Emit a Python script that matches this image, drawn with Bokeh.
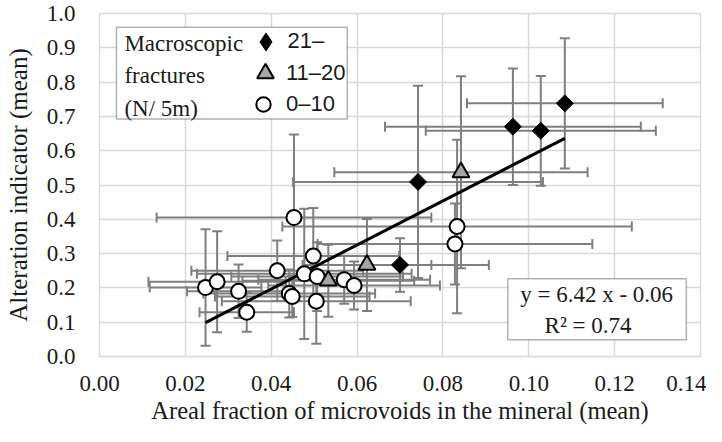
from bokeh.plotting import figure
from bokeh.models import (ColumnDataSource, Whisker, TeeHead, FixedTicker, Range1d,
                          BoxAnnotation, Label, Legend, LegendItem)
from bokeh.embed import file_html
from bokeh.resources import INLINE
import math

# ---- data ----
x_ticks = [0.00, 0.02, 0.04, 0.06, 0.08, 0.10, 0.12, 0.14]
x_tick_labels = ["0.00", "0.02", "0.04", "0.06", "0.08", "0.10", "0.12", "0.14"]
y_ticks = [0.0, 0.1, 0.2, 0.3, 0.4, 0.5, 0.6, 0.7, 0.8, 0.9, 1.0]
y_tick_labels = ["0.0", "0.1", "0.2", "0.3", "0.4", "0.5", "0.6", "0.7", "0.8", "0.9", "1.0"]

# 21- fractures
hi_x = [0.1084, 0.0963, 0.1028, 0.0742, 0.0700]
hi_y = [0.738, 0.670, 0.658, 0.509, 0.267]
hi_xerr = [0.0228, 0.0298, 0.0268, 0.0291, 0.0207]
hi_yerr = [0.190, 0.170, 0.160, 0.280, 0.078]

# 11-20 fractures
mid_x = [0.0842, 0.0623, 0.0533]
mid_y = [0.537, 0.267, 0.221]
mid_xerr = [0.0295, 0.0150, 0.0200]
mid_yerr = [0.280, 0.134, 0.105]

# 0-10 fractures
lo_x = [0.0247, 0.0274, 0.0324, 0.0343, 0.0414, 0.0453, 0.0442, 0.0449,
        0.0477, 0.0498, 0.0507, 0.0505, 0.0570, 0.0593, 0.0833, 0.0828]
lo_y = [0.201, 0.218, 0.190, 0.129, 0.250, 0.405, 0.184, 0.175,
        0.241, 0.293, 0.233, 0.161, 0.224, 0.207, 0.379, 0.328]
lo_xerr = [0.013, 0.016, 0.012, 0.011, 0.020, 0.032, 0.020, 0.018,
           0.025, 0.020, 0.020, 0.022, 0.020, 0.020, 0.0407, 0.032]
lo_yerr = [0.170, 0.147, 0.078, 0.057, 0.088, 0.242, 0.070, 0.060,
           0.190, 0.140, 0.100, 0.124, 0.070, 0.070, 0.253, 0.118]

slope = 6.42
intercept = -0.06
r2 = 0.74

legend_title = "Macroscopic\nfractures\n(N/ 5m)"
series_labels = ["21\u2013", "11\u201320", "0\u201310"]

SERIF = "Liberation Serif"
SANS = "Liberation Sans"
ERR = "#7f7f7f"
GRID = "#d9d9d9"
TXT = "#1a1a1a"

p = figure(width=706, height=426, output_backend="svg", toolbar_location=None,
           x_range=Range1d(0, 0.14), y_range=Range1d(0, 1.0),
           min_border_left=99, min_border_right=6, min_border_top=13, min_border_bottom=68)
p.outline_line_color = GRID
p.outline_line_width = 1.5
p.background_fill_color = "white"
p.border_fill_color = "white"

for g in (p.xgrid, p.ygrid):
    g.grid_line_color = GRID
    g.grid_line_width = 1.5
p.xgrid.ticker = FixedTicker(ticks=x_ticks)
p.ygrid.ticker = FixedTicker(ticks=y_ticks)

p.xaxis.ticker = FixedTicker(ticks=x_ticks)
p.yaxis.ticker = FixedTicker(ticks=y_ticks)
p.xaxis.major_label_overrides = {t: l for t, l in zip(x_ticks, x_tick_labels)}
p.yaxis.major_label_overrides = {t: l for t, l in zip(y_ticks, y_tick_labels)}
for ax in (p.xaxis, p.yaxis):
    ax.axis_line_color = None
    ax.major_tick_line_color = None
    ax.minor_tick_line_color = None
    ax.major_label_text_font = SERIF
    ax.major_label_text_font_size = "23px"
    ax.major_label_text_color = TXT
    ax.axis_label_text_font = SERIF
    ax.axis_label_text_font_style = "normal"
    ax.axis_label_text_color = TXT
p.xaxis.axis_label = "Areal fraction of microvoids in the mineral (mean)"
p.yaxis.axis_label = "Alteration indicator (mean)"
p.xaxis.axis_label_text_font_size = "24.5px"
p.yaxis.axis_label_text_font_size = "25px"
p.xaxis.major_label_standoff = 13
p.yaxis.major_label_standoff = 18
p.xaxis.axis_label_standoff = 3
p.yaxis.axis_label_standoff = 12


def make_src(xs, ys, xe, ye):
    return ColumnDataSource(dict(
        x=xs, y=ys,
        xl=[a - b for a, b in zip(xs, xe)], xu=[a + b for a, b in zip(xs, xe)],
        yl=[a - b for a, b in zip(ys, ye)], yu=[a + b for a, b in zip(ys, ye)]))


srcs = [make_src(lo_x, lo_y, lo_xerr, lo_yerr),
        make_src(mid_x, mid_y, mid_xerr, mid_yerr),
        make_src(hi_x, hi_y, hi_xerr, hi_yerr)]

for s in srcs:
    wv = Whisker(source=s, base="x", lower="yl", upper="yu", dimension="height",
                 line_color=ERR, line_width=2,
                 lower_head=TeeHead(size=10, line_color=ERR, line_width=2),
                 upper_head=TeeHead(size=10, line_color=ERR, line_width=2))
    wh = Whisker(source=s, base="y", lower="xl", upper="xu", dimension="width",
                 line_color=ERR, line_width=2,
                 lower_head=TeeHead(size=10, line_color=ERR, line_width=2),
                 upper_head=TeeHead(size=10, line_color=ERR, line_width=2))
    wv.level = "underlay"
    wh.level = "underlay"
    p.add_layout(wv)
    p.add_layout(wh)

# regression line across the data range
all_x = hi_x + mid_x + lo_x
x0, x1 = min(all_x), max(all_x)
p.line([x0, x1], [slope * x0 + intercept, slope * x1 + intercept], line_color="black", line_width=3)

r_lo = p.scatter("x", "y", source=srcs[0], marker="circle", size=15,
                 fill_color="white", line_color="black", line_width=2)
r_mid = p.scatter("x", "y", source=srcs[1], marker="triangle", size=17,
                  fill_color="#a6a6a6", line_color="black", line_width=2)
r_hi = p.scatter("x", "y", source=srcs[2], marker="square", size=12, angle=math.pi / 4,
                 fill_color="black", line_color="black", line_width=1)
# same series as a diamond marker, only used for its legend key
r_hi_key = p.scatter("x", "y", source=srcs[2], marker="diamond", size=18,
                     fill_color="black", line_color="black", line_width=1, visible=False)

# legend box
box = BoxAnnotation(left=0.00395, right=0.0577, bottom=0.6925, top=0.960,
                    fill_color="white", fill_alpha=1.0, line_color="black", line_width=1.5)
p.add_layout(box)
p.add_layout(Label(x=0.0058, y=0.950, text=legend_title, text_font=SERIF,
                   text_font_size="23px", text_baseline="top", text_align="left",
                   text_line_height=1.3, text_color=TXT))


def key(label, renderer, loc, g, standoff):
    lg = Legend(items=[LegendItem(label=label, renderers=[renderer])],
                location=loc, orientation="vertical",
                glyph_width=g, glyph_height=g, label_height=g, spacing=0,
                padding=0, margin=0, label_standoff=standoff,
                label_text_font=SANS, label_text_font_size="22px", label_text_color=TXT,
                border_line_color=None, background_fill_alpha=0)
    p.add_layout(lg)


key(series_labels[0], r_hi_key, (143.5, 292.5), 45, -7)
key(series_labels[1], r_mid, (145, 262), 42, -6)
key(series_labels[2], r_lo, (146, 234), 36, 5)

# equation box
eqbox = BoxAnnotation(left=0.0951, right=0.1367, bottom=0.049, top=0.227,
                      fill_color="white", fill_alpha=1.0, line_color="black", line_width=1.5)
p.add_layout(eqbox)
p.add_layout(Label(x=0.1158, y=0.180, text="y = %.2f x - %.2f" % (slope, -intercept),
                   text_font=SERIF, text_font_size="23px", text_align="center",
                   text_baseline="middle", text_color=TXT))
p.add_layout(Label(x=0.1138, y=0.090, text="R\u00b2 = %.2f" % r2,
                   text_font=SERIF, text_font_size="23px", text_align="center",
                   text_baseline="middle", text_color=TXT))

open("out.html", "w").write(file_html(p, INLINE))
